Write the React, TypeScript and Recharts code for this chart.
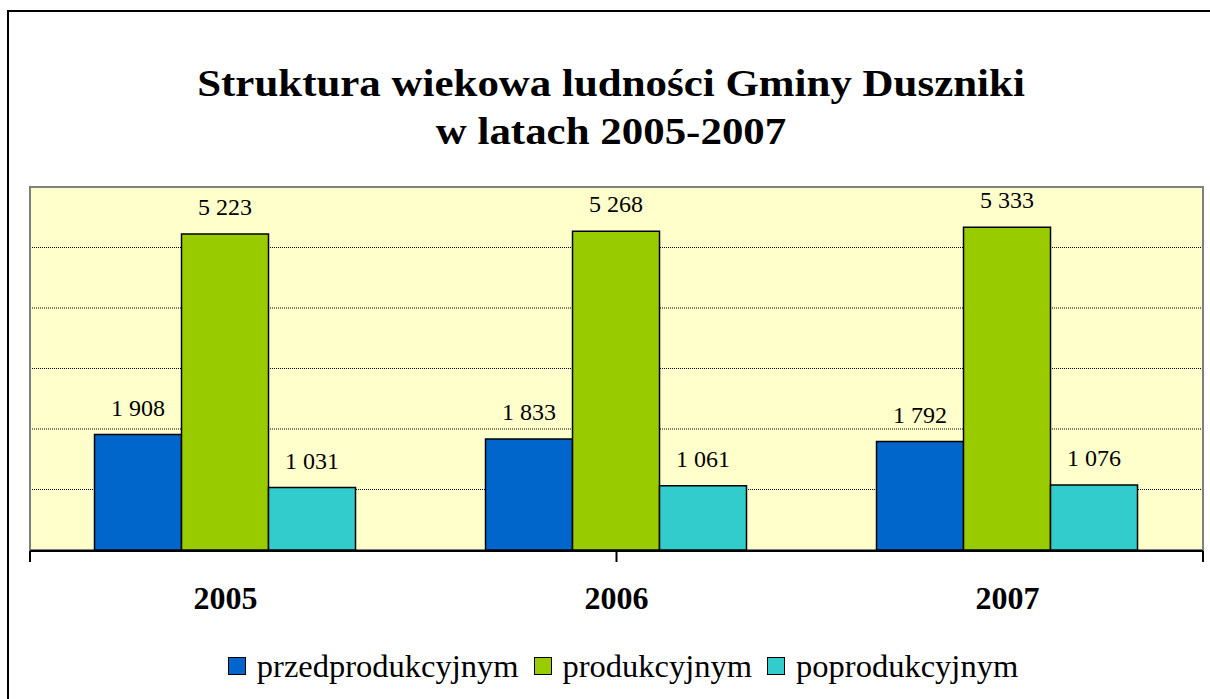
import React from 'react';
import { BarChart, Bar, XAxis, YAxis, CartesianGrid, LabelList, Legend, ReferenceArea } from 'recharts';

const years = ['2005', '2006', '2007'];
const przedprodukcyjnym = [1908, 1833, 1792];
const produkcyjnym = [5223, 5268, 5333];
const poprodukcyjnym = [1031, 1061, 1076];
const yTicks = [0, 1000, 2000, 3000, 4000, 5000, 6000];
const boundaryTicks = [0, 1, 2, 3];
const seriesNames = ['przedprodukcyjnym', 'produkcyjnym', 'poprodukcyjnym'];
const seriesColors = ['#0066CC', '#99CC00', '#33CCCC'];
const titleLines = ['Struktura wiekowa ludności Gminy Duszniki', 'w latach 2005-2007'];

const data = years.map((year, i) => ({
  year,
  przedprodukcyjnym: przedprodukcyjnym[i],
  produkcyjnym: produkcyjnym[i],
  poprodukcyjnym: poprodukcyjnym[i],
}));

const FONT = 'Liberation Serif';

const fmt = (v: any) => String(v).replace(/\B(?=(\d{3})+(?!\d))/g, ' ');
const NoTick = () => null;

const LegendContent = (props: any) => {
  const payload = [...(props.payload || [])].sort(
    (a: any, b: any) => seriesNames.indexOf(a.value) - seriesNames.indexOf(b.value)
  );
  return (
    <div style={{ display: 'flex', justifyContent: 'center', alignItems: 'center', fontFamily: FONT, fontSize: 32.5, color: '#000', lineHeight: '36px' }}>
      {payload.map((p: any, i: number) => (
        <div key={i} style={{ display: 'flex', alignItems: 'center', marginRight: i < payload.length - 1 ? 15 : 0 }}>
          <span style={{ display: 'inline-block', width: 16, height: 16, background: p.color, border: '1.5px solid #000', marginRight: 11 }} />
          <span>{p.value}</span>
        </div>
      ))}
    </div>
  );
};

export default function App() {
  return (
    <div style={{ position: 'absolute', left: 0, top: 0, width: 1210, height: 699, overflow: 'hidden', background: '#fff' }}>
      <div style={{ position: 'absolute', left: 7, top: 10, width: 1240, height: 720, border: '2px solid #000', boxSizing: 'border-box' }} />
      <svg width={1210} height={160} style={{ position: 'absolute', left: 0, top: 0 }}>
        <text transform="translate(611,96) scale(1.13,1)" textAnchor="middle" fontFamily={FONT} fontWeight="bold" fontSize={38} fill="#000">{titleLines[0]}</text>
        <text transform="translate(611,144) scale(1.13,1)" textAnchor="middle" fontFamily={FONT} fontWeight="bold" fontSize={38} fill="#000">{titleLines[1]}</text>
      </svg>
      <div style={{ position: 'absolute', left: 0, top: 0 }}>
        <BarChart
          width={1210}
          height={699}
          data={data}
          margin={{ top: 187, right: 7, bottom: 147, left: 29 }}
          barCategoryGap="16.5%"
          barGap={0}
        >
          <CartesianGrid
            vertical={false}
            fill="#FFFFCC"
            stroke="#000"
            strokeDasharray="1 1"
            strokeWidth={1}
          />
          <ReferenceArea y1={0} y2={6000} fill="none" stroke="#808080" strokeWidth={2} ifOverflow="visible" />
          <XAxis
            xAxisId="edges"
            type="number"
            domain={[0, 3]}
            ticks={boundaryTicks}
            interval={0}
            height={1}
            tick={NoTick}
            tickSize={11}
            axisLine={{ stroke: '#000', strokeWidth: 2 }}
            tickLine={{ stroke: '#000', strokeWidth: 2 }}
          />
          <XAxis
            dataKey="year"
            height={1}
            axisLine={false}
            tickLine={false}
            tickSize={6}
            tickMargin={30}
            tick={{ fill: '#000', fontSize: 32, fontWeight: 'bold', fontFamily: FONT }}
          />
          <YAxis domain={[0, 6000]} ticks={yTicks} interval={0} width={1} tick={NoTick} tickLine={false} axisLine={false} />
          <Legend
            layout="horizontal"
            verticalAlign="middle"
            align="center"
            wrapperStyle={{ top: 648, left: 18, width: 1210 }}
            content={<LegendContent />}
          />
          {seriesNames.map((name, i) => (
            <Bar
              key={name}
              dataKey={name}
              name={name}
              fill={seriesColors[i]}
              stroke="#000"
              strokeWidth={1.5}
              isAnimationActive={false}
            >
              <LabelList
                dataKey={name}
                position="top"
                offset={19}
                formatter={fmt}
                fill="#000"
                fontSize={24}
                fontFamily={FONT}
              />
            </Bar>
          ))}
        </BarChart>
      </div>
    </div>
  );
}
